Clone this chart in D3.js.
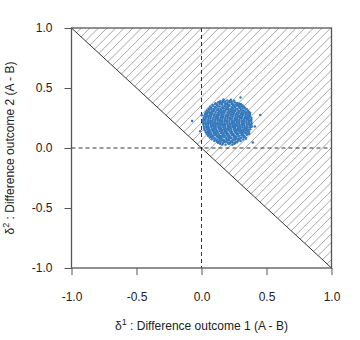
<!DOCTYPE html>
<html>
<head>
<meta charset="utf-8">
<script src="https://cdn.jsdelivr.net/npm/d3@7"></script>
<style>
  html, body { margin: 0; padding: 0; background: #fff; }
  svg { display: block; font-family: "Liberation Sans", Arial, Helvetica, sans-serif; }
</style>
</head>
<body>
<div id="chart"></div>
<script>
// ---- data ----
const tickValues = [-1, -0.5, 0, 0.5, 1];
const tickLabels = ["-1.0", "-0.5", "0.0", "0.5", "1.0"];
const xTitle = "Difference outcome 1 (A - B)";
const yTitle = "Difference outcome 2 (A - B)";
// boundary of the shaded region (delta2 = -delta1 and the upper-right corner)
const region = [[-1, 1], [1, 1], [1, -1]];
// simulated differences (delta1, delta2)
const samples = [
 [.170,.405],[.226,.402],
 [.145,.389],[.163,.394],[.181,.387],[.198,.396],[.214,.390],[.232,.386],[.251,.393],
 [.108,.372],[.127,.379],[.144,.374],[.166,.381],[.183,.371],[.202,.378],[.219,.383],[.238,.373],[.257,.380],[.276,.375],[.293,.369],
 [.085,.358],[.104,.364],[.121,.357],[.140,.366],[.158,.360],[.177,.355],[.196,.363],[.213,.359],[.231,.367],[.250,.356],[.268,.362],[.287,.358],[.305,.365],[.316,.354],
 [.068,.344],[.087,.349],[.105,.341],[.124,.350],[.141,.345],[.160,.339],[.179,.348],[.197,.343],[.216,.351],[.234,.340],[.253,.346],[.271,.352],[.290,.342],[.309,.347],[.327,.340],
 [.055,.328],[.073,.334],[.092,.327],[.110,.335],[.129,.330],[.147,.325],[.166,.333],[.184,.329],[.203,.336],[.221,.326],[.240,.332],[.258,.337],[.277,.327],[.295,.333],[.314,.329],[.332,.336],[.347,.325],
 [.043,.313],[.061,.319],[.080,.311],[.098,.320],[.117,.314],[.135,.309],[.154,.317],[.172,.312],[.191,.321],[.209,.310],[.228,.318],[.246,.314],[.265,.322],[.283,.311],[.302,.317],[.320,.313],[.339,.320],[.357,.310],
 [.034,.298],[.052,.304],[.071,.296],[.089,.305],[.108,.299],[.126,.294],[.145,.302],[.163,.297],[.182,.306],[.200,.295],[.219,.303],[.237,.299],[.256,.307],[.274,.296],[.293,.302],[.311,.298],[.330,.305],[.348,.295],[.366,.301],
 [.027,.283],[.045,.289],[.064,.281],[.082,.290],[.101,.284],[.119,.279],[.138,.287],[.156,.282],[.175,.291],[.193,.280],[.212,.288],[.230,.284],[.249,.292],[.267,.281],[.286,.287],[.304,.283],[.323,.290],[.341,.280],[.360,.286],[.374,.291],
 [.022,.268],[.040,.274],[.059,.266],[.077,.275],[.096,.269],[.114,.264],[.133,.272],[.151,.267],[.170,.276],[.188,.265],[.207,.273],[.225,.269],[.244,.277],[.262,.266],[.281,.272],[.299,.268],[.318,.275],[.336,.265],[.355,.271],[.373,.277],
 [.017,.253],[.035,.259],[.054,.251],[.072,.260],[.091,.254],[.109,.249],[.128,.257],[.146,.252],[.165,.261],[.183,.250],[.202,.258],[.220,.254],[.239,.262],[.257,.251],[.276,.257],[.294,.253],[.313,.260],[.331,.250],[.350,.256],[.368,.262],[.383,.252],
 [.014,.238],[.032,.244],[.051,.236],[.069,.245],[.088,.239],[.106,.234],[.125,.242],[.143,.237],[.162,.246],[.180,.235],[.199,.243],[.217,.239],[.236,.247],[.254,.236],[.273,.242],[.291,.238],[.310,.245],[.328,.235],[.347,.241],[.365,.247],[.384,.237],
 [.012,.223],[.030,.229],[.049,.221],[.067,.230],[.086,.224],[.104,.219],[.123,.227],[.141,.222],[.160,.231],[.178,.220],[.197,.228],[.215,.224],[.234,.232],[.252,.221],[.271,.227],[.289,.223],[.308,.230],[.326,.220],[.345,.226],[.363,.232],[.382,.222],
 [.013,.208],[.031,.214],[.050,.206],[.068,.215],[.087,.209],[.105,.204],[.124,.212],[.142,.207],[.161,.216],[.179,.205],[.198,.213],[.216,.209],[.235,.217],[.253,.206],[.272,.212],[.290,.208],[.309,.215],[.327,.205],[.346,.211],[.364,.217],[.385,.207],
 [.015,.193],[.033,.199],[.052,.191],[.070,.200],[.089,.194],[.107,.189],[.126,.197],[.144,.192],[.163,.201],[.181,.190],[.200,.198],[.218,.194],[.237,.202],[.255,.191],[.274,.197],[.292,.193],[.311,.200],[.329,.190],[.348,.196],[.366,.202],[.384,.192],
 [.018,.178],[.036,.184],[.055,.176],[.073,.185],[.092,.179],[.110,.174],[.129,.182],[.147,.177],[.166,.186],[.184,.175],[.203,.183],[.221,.179],[.240,.187],[.258,.176],[.277,.182],[.295,.178],[.314,.185],[.332,.175],[.351,.181],[.369,.187],[.386,.177],
 [.021,.163],[.039,.169],[.058,.161],[.076,.170],[.095,.164],[.113,.159],[.132,.167],[.150,.162],[.169,.171],[.187,.160],[.206,.168],[.224,.164],[.243,.172],[.261,.161],[.280,.167],[.298,.163],[.317,.170],[.335,.160],[.354,.166],[.372,.172],
 [.026,.148],[.044,.154],[.063,.146],[.081,.155],[.100,.149],[.118,.144],[.137,.152],[.155,.147],[.174,.156],[.192,.145],[.211,.153],[.229,.149],[.248,.157],[.266,.146],[.285,.152],[.303,.148],[.322,.155],[.340,.145],[.359,.151],[.375,.157],
 [.032,.133],[.050,.139],[.069,.131],[.087,.140],[.106,.134],[.124,.129],[.143,.137],[.161,.132],[.180,.141],[.198,.130],[.217,.138],[.235,.134],[.254,.142],[.272,.131],[.291,.137],[.309,.133],[.328,.140],[.346,.130],[.366,.136],
 [.040,.118],[.058,.124],[.077,.116],[.095,.125],[.114,.119],[.132,.114],[.151,.122],[.169,.117],[.188,.126],[.206,.115],[.225,.123],[.243,.119],[.262,.127],[.280,.116],[.299,.122],[.317,.118],[.336,.125],[.354,.115],
 [.050,.103],[.068,.109],[.087,.101],[.105,.110],[.124,.104],[.142,.099],[.161,.107],[.179,.102],[.198,.111],[.216,.100],[.235,.108],[.253,.104],[.272,.112],[.290,.101],[.309,.107],[.327,.103],[.347,.110],
 [.063,.088],[.081,.094],[.100,.086],[.118,.095],[.137,.089],[.155,.084],[.174,.092],[.192,.087],[.211,.096],[.229,.085],[.248,.093],[.266,.089],[.285,.097],[.303,.086],[.322,.092],[.338,.088],
 [.079,.073],[.097,.079],[.116,.071],[.134,.080],[.153,.074],[.171,.069],[.190,.077],[.208,.072],[.227,.081],[.245,.070],[.264,.078],[.282,.074],[.301,.082],[.320,.071],
 [.099,.058],[.117,.064],[.136,.056],[.154,.065],[.173,.059],[.191,.054],[.210,.062],[.228,.057],[.247,.066],[.265,.055],[.284,.063],[.301,.059],
 [.128,.043],[.147,.049],[.165,.041],[.184,.050],[.202,.044],[.221,.039],[.239,.047],[.258,.042],[.273,.048],
 [.160,.030],[.185,.027],[.210,.033],[.238,.028],
 [.118,.362],[.205,.352],[.272,.368],[.093,.312],[.152,.291],[.233,.305],[.312,.281],[.052,.262],[.113,.246],[.192,.271],[.262,.233],[.334,.251],[.362,.209],[.294,.187],[.224,.199],[.157,.214],[.081,.188],[.029,.203],[.061,.151],[.134,.173],[.203,.158],[.273,.149],[.343,.162],[.313,.124],[.244,.111],[.171,.128],[.102,.116],[.071,.093],[.142,.077],[.213,.085],[.283,.066],[.331,.094],[.183,.052],[.252,.036],
 [.137,.384],[.188,.368],[.243,.357],[.298,.345],[.074,.327],[.128,.318],[.176,.302],[.251,.289],[.343,.296],[.038,.281],[.097,.273],[.161,.259],[.218,.247],[.288,.262],[.356,.241],[.024,.236],[.077,.221],[.137,.233],[.189,.226],[.248,.218],[.318,.224],[.377,.231],[.042,.173],[.101,.184],[.154,.196],[.208,.176],[.267,.191],[.327,.203],[.378,.189],[.047,.129],[.119,.141],[.186,.142],[.229,.131],[.296,.141],[.357,.139],[.089,.103],[.154,.096],[.201,.102],[.262,.096],[.318,.106],[.108,.068],[.166,.062],[.232,.061],[.291,.076],[.143,.036],[.218,.043],
 [.158,.376],[.221,.391],[.284,.352],[.062,.296],[.201,.322],[.262,.318],[.122,.271],[.231,.279],[.303,.253],[.372,.268],[.062,.208],[.118,.203],[.174,.189],[.239,.181],[.301,.169],[.093,.157],[.161,.149],[.251,.167],[.316,.147],[.366,.118],[.055,.111],[.129,.089],[.192,.118],[.276,.121],[.342,.078],[.121,.051],[.197,.068],[.256,.078],
 [-.072,.225],[.002,.272],[.452,.276],[.395,.045],[.410,.180],[-.010,.140],[.300,.420]
];

// ---- layout ----
const W = 360, H = 340;
const x = d3.scaleLinear().domain([-1, 1]).range([71.5, 331.5]);
const y = d3.scaleLinear().domain([-1, 1]).range([268, 28]);

const svg = d3.select("#chart").append("svg")
  .attr("width", W).attr("height", H);

const defs = svg.append("defs");
defs.append("clipPath").attr("id", "regionClip")
  .append("path")
  .attr("d", d3.line().x(d => x(d[0])).y(d => y(d[1]))(region) + "Z");

// hatch lines (45 degrees in screen space)
const hatch = svg.append("g").attr("clip-path", "url(#regionClip)");
const stepPx = 8.6;
const hatchOffsets = d3.range(0, 560, stepPx);
hatch.selectAll("line").data(hatchOffsets).join("line")
  .attr("x1", c => x(1) - c).attr("y1", y(-1))
  .attr("x2", c => x(1) - c + 300).attr("y2", y(-1) - 300)
  .attr("stroke", "#8a8a8a").attr("stroke-width", 0.75);

// diagonal boundary
svg.append("line")
  .attr("x1", x(-1)).attr("y1", y(1)).attr("x2", x(1)).attr("y2", y(-1))
  .attr("stroke", "#000").attr("stroke-width", 0.8);

// reference lines
svg.append("line")
  .attr("x1", x(0)).attr("x2", x(0)).attr("y1", y(1)).attr("y2", y(-1))
  .attr("stroke", "#000").attr("stroke-width", 0.8).attr("stroke-dasharray", "4,3");
svg.append("line")
  .attr("x1", x(-1)).attr("x2", x(1)).attr("y1", y(0)).attr("y2", y(0))
  .attr("stroke", "#000").attr("stroke-width", 0.8).attr("stroke-dasharray", "4,3");

// points
svg.append("g").selectAll("circle").data(samples).join("circle")
  .attr("cx", d => x(d[0])).attr("cy", d => y(d[1]))
  .attr("r", 1.25)
  .attr("fill", "#3579bd");

// axes
const fmt = d => tickLabels[tickValues.indexOf(d)];
const xAxis = svg.append("g").attr("transform", `translate(0,${y(-1)})`)
  .call(d3.axisBottom(x).tickValues(tickValues).tickFormat(fmt).tickSize(7).tickPadding(17));
const yAxis = svg.append("g").attr("transform", `translate(${x(-1)},0)`)
  .call(d3.axisLeft(y).tickValues(tickValues).tickFormat(fmt).tickSize(7).tickPadding(12));
[xAxis, yAxis].forEach(g => {
  g.select(".domain").remove();
  g.selectAll(".tick line").attr("stroke", "#555").attr("stroke-width", 1);
  g.selectAll(".tick text").attr("fill", "#222")
    .style("font-size", "12px").style("font-family", "'Liberation Sans', Arial, sans-serif");
});

// box
svg.append("rect")
  .attr("x", x(-1)).attr("y", y(1))
  .attr("width", x(1) - x(-1)).attr("height", y(-1) - y(1))
  .attr("fill", "none").attr("stroke", "#555").attr("stroke-width", 1.3);

// axis titles
const xt = svg.append("text")
  .attr("x", (x(-1) + x(1)) / 2).attr("y", 330)
  .attr("text-anchor", "middle").attr("fill", "#222").style("font-size", "12px");
xt.append("tspan").text("δ");
xt.append("tspan").attr("dy", -5).style("font-size", "9px").text("1");
xt.append("tspan").attr("dy", 5).text(" : " + xTitle);

const yt = svg.append("text")
  .attr("transform", `translate(14,${(y(-1) + y(1)) / 2}) rotate(-90)`)
  .attr("text-anchor", "middle").attr("fill", "#222").style("font-size", "12px");
yt.append("tspan").text("δ");
yt.append("tspan").attr("dy", -5).style("font-size", "9px").text("2");
yt.append("tspan").attr("dy", 5).text(" : " + yTitle);
</script>
</body>
</html>
